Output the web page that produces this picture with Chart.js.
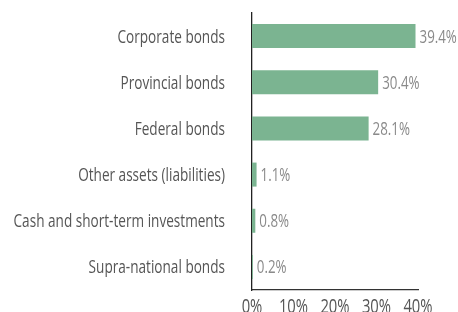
<!DOCTYPE html>
<html><head><meta charset="utf-8">
<script src="https://cdn.jsdelivr.net/npm/chart.js@4"></script>
<style>html,body{margin:0;padding:0;background:#fff}#w{width:458px;height:312px}</style>
</head><body><div id="w"><canvas id="c"></canvas></div>
<script>
const categories = ["Corporate bonds","Provincial bonds","Federal bonds","Other assets (liabilities)","Cash and short-term investments","Supra-national bonds"];
const values = [39.4, 30.4, 28.1, 1.1, 0.8, 0.2];
const tickValues = [0, 10, 20, 30, 40];
const FONT = "'Open Sans', sans-serif";

function drawText(ctx, txt, x, y, align, size, color, hs) {
  ctx.save();
  ctx.font = size + "px " + FONT;
  ctx.fillStyle = color;
  ctx.textAlign = align;
  ctx.textBaseline = "alphabetic";
  ctx.translate(x, y);
  ctx.scale(hs, 1);
  ctx.fillText(txt, 0, 0);
  ctx.restore();
}

const labelPlugin = {
  id: 'labels',
  afterDraw(chart) {
    const ctx = chart.ctx;
    const xs = chart.scales.x, ys = chart.scales.y;
    categories.forEach((c, i) => {
      const y = ys.getPixelForTick(i);
      drawText(ctx, c, ys.right - 27, y + 6.5, 'right', 18, '#555', 0.755);
    });
    tickValues.forEach(v => {
      drawText(ctx, v + '%', xs.getPixelForValue(v), xs.top + 23, 'center', 19.5, '#555', 0.76);
    });
    const meta = chart.getDatasetMeta(0);
    meta.data.forEach((bar, i) => {
      drawText(ctx, values[i].toFixed(1) + '%', bar.x + 4, bar.y + 6.5, 'left', 18, '#8a8a8a', 0.74);
    });
  }
};

new Chart(document.getElementById('c'), {
  type: 'bar',
  data: { labels: categories, datasets: [{ data: values, backgroundColor: '#7bb491', categoryPercentage: 0.52, barPercentage: 1 }] },
  options: {
    indexAxis: 'y', responsive: true, maintainAspectRatio: false, animation: false,
    layout: { padding: { top: 13, right: 40, left: 0, bottom: 0 } },
    plugins: { legend: { display: false }, tooltip: { enabled: false } },
    scales: {
      x: {
        min: 0, max: 40,
        afterBuildTicks(s) { s.ticks = tickValues.map(v => ({ value: v })); },
        afterFit(s) { s.height = 22; s.paddingLeft = 0; s.paddingRight = 0; },
        grid: { display: false, drawTicks: false },
        border: { display: true, color: '#333', width: 1.3 },
        ticks: { display: false }
      },
      y: {
        afterFit(s) { s.width = 252; s.paddingTop = 0; s.paddingBottom = 0; },
        grid: { display: false, drawTicks: false },
        border: { display: true, color: '#222', width: 1.3 },
        ticks: { display: false }
      }
    }
  },
  plugins: [labelPlugin]
});
</script></body></html>
